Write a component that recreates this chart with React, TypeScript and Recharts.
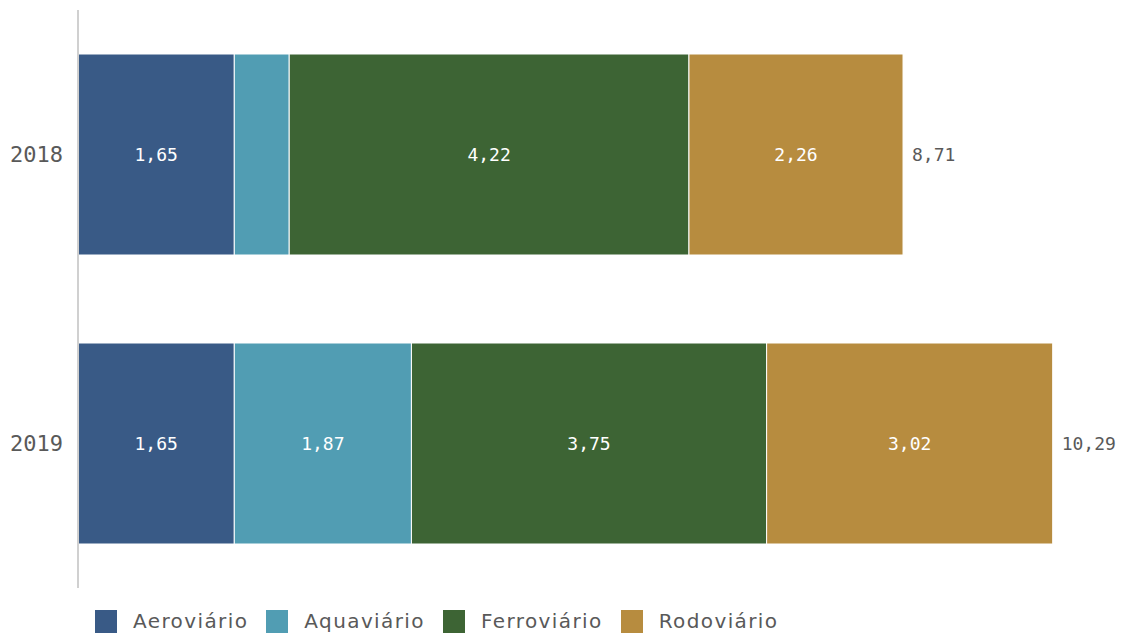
import { BarChart, Bar, XAxis, YAxis, LabelList } from 'recharts'

const years = ['2018', '2019']
const aeroviario = [1.65, 1.65]
const aquaviario = [0.58, 1.87]
const ferroviario = [4.22, 3.75]
const rodoviario = [2.26, 3.02]
const totals = [8.71, 10.29]

const series = [
  { key: 'aeroviario', name: 'Aeroviário', color: '#395a86' },
  { key: 'aquaviario', name: 'Aquaviário', color: '#519db3' },
  { key: 'ferroviario', name: 'Ferroviário', color: '#3d6434' },
  { key: 'rodoviario', name: 'Rodoviário', color: '#b78c3f' },
]

const data = years.map((year, i) => ({
  year,
  aeroviario: aeroviario[i],
  aquaviario: aquaviario[i],
  ferroviario: ferroviario[i],
  rodoviario: rodoviario[i],
  total: totals[i],
}))

const fmt = (v: number) => v.toFixed(2).replace('.', ',')

const numFont = '"DejaVu Sans Mono", monospace'

function InsideLabel(props: any) {
  const { x, y, width, height, value } = props
  if (width < 60) return null
  return (
    <text
      x={x + width / 2}
      y={y + height / 2}
      fill="#ffffff"
      fontSize={18}
      fontFamily={numFont}
      textAnchor="middle"
      dominantBaseline="central"
    >
      {fmt(value)}
    </text>
  )
}

function TotalLabel(props: any) {
  const { x, y, width, height, value } = props
  return (
    <text
      x={x + width + 9}
      y={y + height / 2}
      fill="#595959"
      fontSize={18}
      fontFamily={numFont}
      dominantBaseline="central"
    >
      {fmt(value)}
    </text>
  )
}

export default function App() {
  return (
    <div style={{ position: 'absolute', left: 0, top: 0, width: 1121, height: 635, background: '#fff' }}>
      <BarChart
        width={1121}
        height={635}
        data={data}
        layout="vertical"
        margin={{ top: 10, right: 20, bottom: 47, left: 0 }}
        barSize={201}
      >
        <XAxis type="number" hide domain={[0, 10.8]} />
        <YAxis
          type="category"
          dataKey="year"
          width={78}
          axisLine={{ stroke: '#d0d0d0', strokeWidth: 2 }}
          tickLine={false}
          tick={{ fill: '#595959', fontSize: 22, fontFamily: numFont }}
          tickMargin={9}
        />
        {series.map((s) => (
          <Bar
            key={s.key}
            dataKey={s.key}
            name={s.name}
            stackId="a"
            fill={s.color}
            stroke="#ffffff"
            strokeWidth={1}
            isAnimationActive={false}
          >
            <LabelList dataKey={s.key} content={InsideLabel} />
            {s.key === 'rodoviario' && <LabelList dataKey="total" content={TotalLabel} />}
          </Bar>
        ))}
      </BarChart>
      <div
        style={{
          position: 'absolute',
          left: 95,
          top: 610,
          display: 'flex',
          alignItems: 'center',
          fontFamily: '"DejaVu Sans", sans-serif',
          fontSize: 20,
          letterSpacing: 1.4,
          color: '#595959',
          lineHeight: '23px',
        }}
      >
        {series.map((s) => (
          <div key={s.key} style={{ display: 'flex', alignItems: 'center', marginRight: 18 }}>
            <span style={{ width: 22, height: 23, background: s.color, marginRight: 16, display: 'inline-block' }} />
            <span>{s.name}</span>
          </div>
        ))}
      </div>
    </div>
  )
}
